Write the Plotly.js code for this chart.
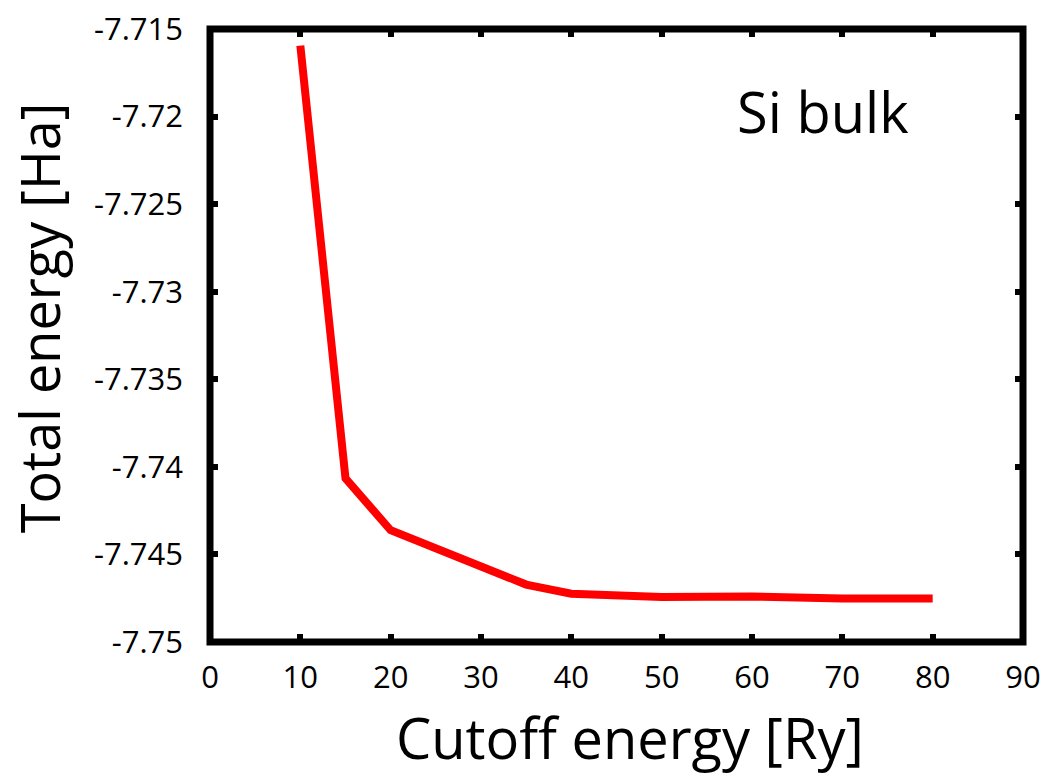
<!DOCTYPE html>
<html>
<head>
<meta charset="utf-8">
<script src="https://cdn.plot.ly/plotly-3.0.1.min.js"></script>
<style>html,body{margin:0;padding:0;background:#fff;}#chart{width:1047px;height:782px;}</style>
</head>
<body>
<div id="chart"></div>
<script>
const cutoff = [10, 15, 20, 25, 30, 35, 40, 50, 60, 70, 80];
const totalEnergy = [-7.71595, -7.74066, -7.74362, -7.74463, -7.74572, -7.74672, -7.74724, -7.74743, -7.74740, -7.74752, -7.74752];
const xTicks = [0, 10, 20, 30, 40, 50, 60, 70, 80, 90];
const yTicks = [-7.75, -7.745, -7.74, -7.735, -7.73, -7.725, -7.72, -7.715];
const yTickText = ['-7.75', '-7.745', '-7.74', '-7.735', '-7.73', '-7.725', '-7.72', '-7.715'];
const xTitle = 'Cutoff energy [Ry]';
const yTitle = 'Total energy [Ha]';
const label = 'Si bulk';

const font = 'Open Sans, Noto Sans, sans-serif';

const trace = {
  x: cutoff, y: totalEnergy, type: 'scatter', mode: 'lines',
  line: {color: '#ff0000', width: 8}, showlegend: false, hoverinfo: 'skip'
};

const layout = {
  width: 1047, height: 782,
  margin: {l: 209.5, r: 23.5, t: 28.5, b: 140, pad: 0},
  paper_bgcolor: '#ffffff', plot_bgcolor: '#ffffff',
  font: {family: font, color: '#000000'},
  xaxis: {
    range: [0, 90], tickvals: xTicks, ticktext: xTicks.map(String),
    ticks: 'inside', ticklen: 8, tickwidth: 6, tickcolor: '#000', mirror: 'ticks',
    showline: false, showgrid: false, zeroline: false,
    tickfont: {family: font, size: 31, color: '#000'},
    ticklabelstandoff: 14
  },
  yaxis: {
    range: [-7.75, -7.715], tickvals: yTicks, ticktext: yTickText,
    ticks: 'inside', ticklen: 8, tickwidth: 6, tickcolor: '#000', mirror: 'ticks',
    showline: false, showgrid: false, zeroline: false,
    tickfont: {family: font, size: 31, color: '#000'},
    ticklabelstandoff: 26
  },
  shapes: [{
    type: 'rect', xref: 'paper', yref: 'paper', x0: 0, x1: 1, y0: 0, y1: 1,
    line: {color: '#000', width: 7}, fillcolor: 'rgba(0,0,0,0)', layer: 'above'
  }],
  annotations: [
    {
      text: label, xref: 'paper', yref: 'paper', x: 0.7537, y: 0.866,
      xanchor: 'center', yanchor: 'middle', showarrow: false,
      font: {family: font, size: 56, color: '#000'}
    },
    {
      text: xTitle, xref: 'paper', yref: 'paper', x: 0.5166, y: -0.1545,
      xanchor: 'center', yanchor: 'middle', showarrow: false,
      font: {family: font, size: 56, color: '#000'}
    },
    {
      text: yTitle, xref: 'paper', yref: 'paper', x: -0.2105, y: 0.5297,
      xanchor: 'center', yanchor: 'middle', showarrow: false, textangle: -90,
      font: {family: font, size: 54, color: '#000'}
    }
  ]
};

Plotly.newPlot('chart', [trace], layout, {staticPlot: true, displayModeBar: false});
</script>
</body>
</html>
